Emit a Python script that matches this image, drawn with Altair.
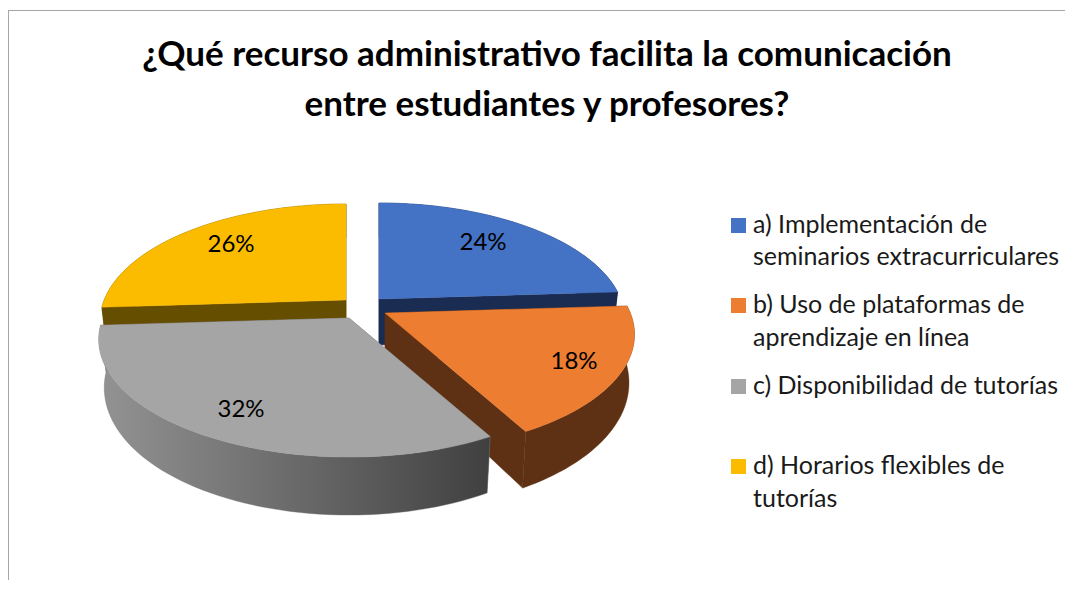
import math
import altair as alt
import pandas as pd

# ---- chart values ----
categories = ["a) Implementación de seminarios extracurriculares",
              "b) Uso de plataformas de aprendizaje en línea",
              "c) Disponibilidad de tutorías",
              "d) Horarios flexibles de tutorías"]
values = [24, 18, 32, 26]
top_colors = ["#4472C4", "#ED7D31", "#A5A5A5", "#FBBC00"]
wall_colors = ["#1B2C52", "#5F3114", "#666666", "#664E00"]
legend_lines = [["a) Implementación de", "seminarios extracurriculares"],
                ["b) Uso de plataformas de", "aprendizaje en línea"],
                ["c) Disponibilidad de tutorías"],
                ["d) Horarios flexibles de", "tutorías"]]
title_lines = ["¿Qué recurso administrativo facilita la comunicación",
               "entre estudiantes y profesores?"]

# ---- layout (pixels in the chart's own frame) ----
W, H = 1057, 572
CX, CY = 357, 301          # pie centre
UX, UY = 246, 113.6        # one pie unit in pixels
PERSP = 0.183
EXPLODE = [(14, -10), (20, 4), (-16, 9), (-19, -9)]
X_STRETCH = [0.983, 0.997, 1.0, 0.983]
LABEL_POS = [(475, 235), (566, 354), (233, 402), (223, 237)]
THICK_BACK, THICK_FRONT = 46, 12
SHRINK = 0.978
LEGEND_X, LEGEND_TEXT_X = 730.5, 745
LEGEND_SQUARE_Y = [217.5, 297.5, 378.5, 458.5]
LEGEND_TEXT_Y = [[217, 249], [297, 330], [378], [458, 491]]
FONT = "Lato"
LEGEND_SIZE, LABEL_SIZE, TITLE_SIZE = 25, 24, 35

xs = alt.Scale(domain=[-CX / UX, (W - CX) / UX], range=[0, W], nice=False, zero=False)
ys = alt.Scale(domain=[(H - CY) / UY, -CY / UY], range=[H, 0], nice=False, zero=False)


def rim(theta, off, stretch, bottom=False):
    u, v = math.sin(theta), -math.cos(theta)
    den = 1 - PERSP * v
    x, y = stretch * u / den, v / den
    ox, oy = off
    if bottom:
        x *= SHRINK
        y += (THICK_BACK + THICK_FRONT * v) / UY
    return x + ox / UX, y + oy / UY


def apex(off, bottom=False):
    ox, oy = off
    return ox / UX, oy / UY + (THICK_BACK / UY if bottom else 0)


def polygon(points, fill):
    df = pd.DataFrame(points, columns=["x", "y"]).reset_index(names="i")
    return alt.Chart(df).mark_line(
        fill=fill, stroke=fill if isinstance(fill, str) else "#707070",
        strokeWidth=0.4, interpolate="linear-closed", clip=False
    ).encode(
        x=alt.X("x:Q", scale=xs, axis=None),
        y=alt.Y("y:Q", scale=ys, axis=None),
        order="i:Q",
    )


gray_gradient = alt.LinearGradient(
    gradient="linear", x1=0, x2=1, y1=0, y2=0,
    stops=[alt.GradientStop(offset=0, color="#939393"),
           alt.GradientStop(offset=0.5, color="#6A6A6A"),
           alt.GradientStop(offset=1, color="#404040")],
)

total = sum(values)
starts, acc = [], 0
for val in values:
    starts.append(acc)
    acc += val

layers = []
# frame lines
layers.append(alt.Chart(pd.DataFrame({"a": [0]})).mark_rule(color="#A6A6A6", strokeWidth=1).encode(
    x=alt.value(0), x2=alt.value(W), y=alt.value(2.5)))
layers.append(alt.Chart(pd.DataFrame({"a": [0]})).mark_rule(color="#A6A6A6", strokeWidth=1).encode(
    x=alt.value(0.5), y=alt.value(2), y2=alt.value(H)))

for idx in [3, 0, 1, 2]:  # back to front
    t0 = 2 * math.pi * starts[idx] / total
    t1 = 2 * math.pi * (starts[idx] + values[idx]) / total
    off = EXPLODE[idx]
    stretch = X_STRETCH[idx]
    n = 60
    angles = [t0 + (t1 - t0) * k / n for k in range(n + 1)]
    top_rim = [rim(a, off, stretch) for a in angles]
    bot_rim = [rim(a, off, stretch, True) for a in angles]
    wall = wall_colors[idx]
    # radial faces
    layers.append(polygon([apex(off), top_rim[0], bot_rim[0], apex(off, True)], wall))
    layers.append(polygon([apex(off), top_rim[-1], bot_rim[-1], apex(off, True)], wall))
    # outer wall
    layers.append(polygon(top_rim + bot_rim[::-1], gray_gradient if idx == 2 else wall))
    # top surface
    layers.append(polygon([apex(off)] + top_rim, top_colors[idx]))

# percentage labels
lab = pd.DataFrame({
    "x": [(p[0] - CX) / UX for p in LABEL_POS],
    "y": [(p[1] - CY) / UY for p in LABEL_POS],
    "t": [f"{v}%" for v in values],
})
layers.append(alt.Chart(lab).mark_text(font=FONT, fontSize=LABEL_SIZE, color="#000000",
                                       align="center", baseline="middle").encode(
    x=alt.X("x:Q", scale=xs, axis=None), y=alt.Y("y:Q", scale=ys, axis=None), text="t:N"))

# legend squares and text
leg = pd.DataFrame({"x": [LEGEND_X] * 4, "y": LEGEND_SQUARE_Y, "c": top_colors})
layers.append(alt.Chart(leg).mark_square(size=225, opacity=1, filled=True).encode(
    x=alt.X("x:Q", scale=None), y=alt.Y("y:Q", scale=None), fill=alt.Fill("c:N", scale=None)))
rows = []
for lines, ypos in zip(legend_lines, LEGEND_TEXT_Y):
    for line, yy in zip(lines, ypos):
        rows.append({"x": LEGEND_TEXT_X, "y": yy, "t": line})
layers.append(alt.Chart(pd.DataFrame(rows)).mark_text(font=FONT, fontSize=LEGEND_SIZE, color="#1A1A1A",
                                                      align="left", baseline="middle").encode(
    x=alt.X("x:Q", scale=None), y=alt.Y("y:Q", scale=None), text="t:N"))

# title
tdf = pd.DataFrame({"x": [539, 539], "y": [47, 97], "t": title_lines})
layers.append(alt.Chart(tdf).mark_text(font=FONT, fontSize=TITLE_SIZE, fontWeight="bold", color="#000000",
                                       align="center", baseline="middle").encode(
    x=alt.X("x:Q", scale=None), y=alt.Y("y:Q", scale=None), text="t:N"))

chart = alt.layer(*layers).resolve_scale(x="shared", y="shared").properties(
    width=W, height=H, padding=0,
    autosize=alt.AutoSizeParams(type="none"),
    background="#FFFFFF",
).configure_view(stroke=None)

chart.save("out.html", embed_options={"renderer": "svg", "actions": False})
